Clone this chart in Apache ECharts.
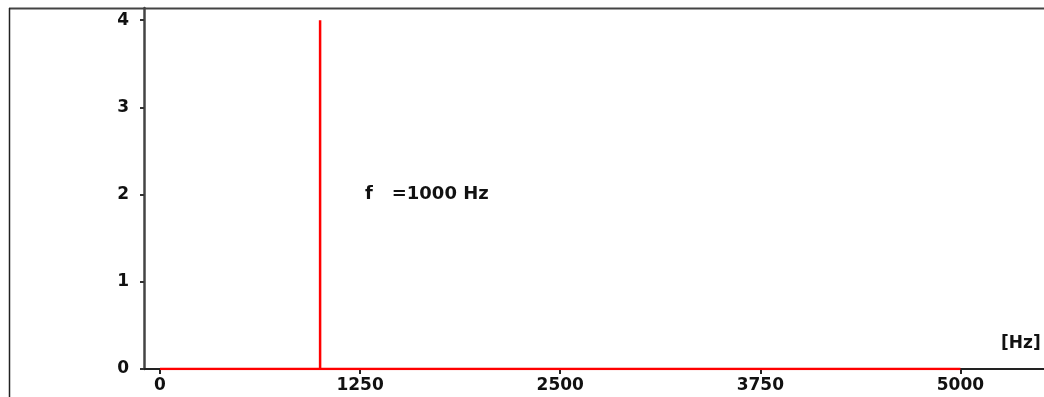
<!DOCTYPE html>
<html>
<head>
<meta charset="utf-8">
<script src="https://cdn.jsdelivr.net/npm/echarts@6/dist/echarts.min.js"></script>
<style>
  html, body { margin: 0; padding: 0; background: #fff; }
  #chart { width: 1044px; height: 397px; }
</style>
</head>
<body>
<div id="chart"></div>
<script>
// Spectrum of a single tone: frequency (Hz) and amplitude
const frequencies = [0, 1000, 1000, 1000, 5000];
const amplitudes  = [0, 0, 4, 0, 0];

const xTicks = [0, 1250, 2500, 3750, 5000];
const yTicks = [0, 1, 2, 3, 4];

const toneFreq = 1000;
const toneLabel = 'f   =' + toneFreq + ' Hz';
const unitLabel = '[Hz]';

const labelFont = {
  fontFamily: 'DejaVu Sans',
  fontWeight: 'bold',
  fontSize: 17,
  color: '#111'
};

const chart = echarts.init(document.getElementById('chart'), null, { renderer: 'canvas' });

chart.setOption({
  animation: false,
  backgroundColor: '#fff',
  grid: { left: 144, right: 0, top: 8, bottom: 28 },
  xAxis: {
    type: 'value',
    min: -100,
    max: 5522,
    splitLine: { show: false },
    axisLine: { show: true, onZero: false, lineStyle: { color: '#222', width: 2 } },
    axisTick: { show: true, length: 5, customValues: xTicks, lineStyle: { color: '#222', width: 2 } },
    axisLabel: Object.assign({ customValues: xTicks, margin: 8, formatter: v => String(v) }, labelFont)
  },
  yAxis: {
    type: 'value',
    min: 0,
    max: 4.14,
    splitLine: { show: false },
    axisLine: { show: true, onZero: false, lineStyle: { color: '#444', width: 2.5 } },
    axisTick: { show: true, length: 4, customValues: yTicks, lineStyle: { color: '#333', width: 2 } },
    axisLabel: Object.assign({ customValues: yTicks, margin: 15, formatter: v => String(v) }, labelFont)
  },
  series: [{
    type: 'line',
    data: frequencies.map((f, i) => [f, amplitudes[i]]),
    symbol: 'none',
    lineStyle: { color: '#ff0000', width: 2.5 },
    z: 3,
    markPoint: {
      symbol: 'circle',
      symbolSize: 0,
      silent: true,
      data: [{ coord: [toneFreq, 2] }],
      label: Object.assign({
        show: true,
        formatter: toneLabel,
        position: [45, 0],
        align: 'left',
        verticalAlign: 'middle'
      }, labelFont, { fontSize: 18 })
    }
  }],
  graphic: [
    // outer frame: top and left edges
    { type: 'line', shape: { x1: 9, y1: 8.5, x2: 1044, y2: 8.5 }, style: { stroke: '#444', lineWidth: 2 }, z: 10 },
    { type: 'line', shape: { x1: 9.5, y1: 8, x2: 9.5, y2: 397 }, style: { stroke: '#222', lineWidth: 1.5 }, z: 10 },
    // unit of the frequency axis
    {
      type: 'text', left: 1001, top: 335, z: 10,
      style: { text: unitLabel, fill: '#111', fontFamily: 'DejaVu Sans', fontWeight: 'bold', fontSize: 17 }
    }
  ]
});
</script>
</body>
</html>
